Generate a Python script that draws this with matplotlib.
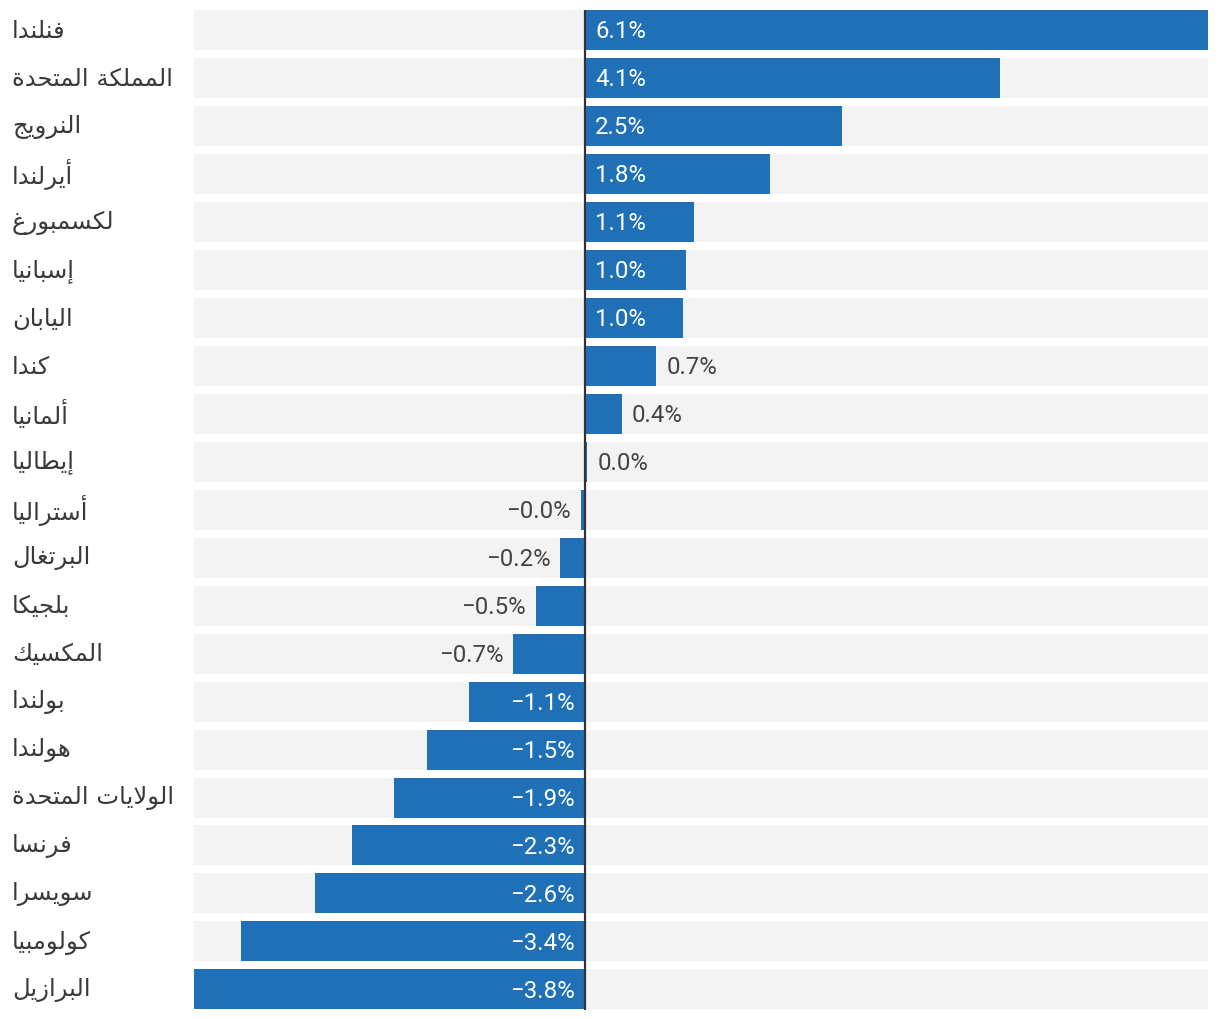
"""Horizontal diverging bar chart with Arabic country labels."""

import matplotlib
matplotlib.use("Agg")
import matplotlib.pyplot as plt
import matplotlib.transforms as mtransforms

countries = [
    "فنلندا", "المملكة المتحدة", "النرويج", "أيرلندا", "لكسمبورغ",
    "إسبانيا", "اليابان", "كندا", "ألمانيا", "إيطاليا", "أستراليا",
    "البرتغال", "بلجيكا", "المكسيك", "بولندا", "هولندا",
    "الولايات المتحدة", "فرنسا", "سويسرا", "كولومبيا", "البرازيل",
]
values = [
    6.10, 4.06, 2.52, 1.81, 1.07, 0.99, 0.96, 0.70, 0.36, 0.02, -0.04,
    -0.24, -0.48, -0.70, -1.13, -1.54, -1.87, -2.28, -2.64, -3.36, -3.82,
]

BLUE = "#2070b8"
GRAY = "#f3f3f3"

# presentation forms: (isolated, final, initial, medial); None -> right-joining only
FORMS = {
    "ا": (0xFE8D, 0xFE8E, None, None),
    "أ": (0xFE83, 0xFE84, None, None),
    "إ": (0xFE87, 0xFE88, None, None),
    "ب": (0xFE8F, 0xFE90, 0xFE91, 0xFE92),
    "ة": (0xFE93, 0xFE94, None, None),
    "ت": (0xFE95, 0xFE96, 0xFE97, 0xFE98),
    "ج": (0xFE9D, 0xFE9E, 0xFE9F, 0xFEA0),
    "ح": (0xFEA1, 0xFEA2, 0xFEA3, 0xFEA4),
    "د": (0xFEA9, 0xFEAA, None, None),
    "ر": (0xFEAD, 0xFEAE, None, None),
    "ز": (0xFEAF, 0xFEB0, None, None),
    "س": (0xFEB1, 0xFEB2, 0xFEB3, 0xFEB4),
    "ط": (0xFEC1, 0xFEC2, 0xFEC3, 0xFEC4),
    "غ": (0xFECD, 0xFECE, 0xFECF, 0xFED0),
    "ف": (0xFED1, 0xFED2, 0xFED3, 0xFED4),
    "ك": (0xFED9, 0xFEDA, 0xFEDB, 0xFEDC),
    "ل": (0xFEDD, 0xFEDE, 0xFEDF, 0xFEE0),
    "م": (0xFEE1, 0xFEE2, 0xFEE3, 0xFEE4),
    "ن": (0xFEE5, 0xFEE6, 0xFEE7, 0xFEE8),
    "ه": (0xFEE9, 0xFEEA, 0xFEEB, 0xFEEC),
    "و": (0xFEED, 0xFEEE, None, None),
    "ي": (0xFEF1, 0xFEF2, 0xFEF3, 0xFEF4),
    # lam-alef ligatures
    "لا": (0xFEFB, 0xFEFC, None, None),
    "لأ": (0xFEF7, 0xFEF8, None, None),
    "لإ": (0xFEF9, 0xFEFA, None, None),
}


def shape_arabic(text: str) -> str:
    """Minimal contextual shaping + reversal for left-to-right rendering."""
    units = []
    i = 0
    while i < len(text):
        pair = text[i:i + 2]
        if pair in FORMS and len(pair) == 2:
            units.append(pair)
            i += 2
        else:
            units.append(text[i])
            i += 1

    def joins_next(u):
        return u in FORMS and FORMS[u][2] is not None

    out = []
    for k, u in enumerate(units):
        if u not in FORMS:
            out.append(u)
            continue
        prev_ok = k > 0 and joins_next(units[k - 1])
        next_ok = (joins_next(u) and k + 1 < len(units)
                   and units[k + 1] in FORMS)
        iso, fin, ini, med = FORMS[u]
        if prev_ok and next_ok:
            cp = med
        elif prev_ok:
            cp = fin
        elif next_ok:
            cp = ini
        else:
            cp = iso
        out.append(chr(cp))
    return "".join(reversed(out))


def fmt(v: float) -> str:
    return f"{v:.1f}%".replace("-", "\u2212")


def main():
    fig = plt.figure(figsize=(12.2, 10.2), dpi=100)
    ax = fig.add_axes([194.5 / 1220, 9.5 / 1020, 1013.5 / 1220, 1000 / 1020])

    n = len(values)
    ys = list(range(n))
    h = 40 / 48
    xmin, xmax = min(values), max(values)

    ax.barh(ys, [xmax - xmin] * n, left=xmin, height=h, color=GRAY, zorder=1)
    ax.barh(ys, values, height=h, color=BLUE, zorder=2)
    ax.axvline(0, color="#333333", lw=1.6, zorder=3)

    ax.set_xlim(xmin, xmax)
    ax.set_ylim(n - 1 + h / 2, -h / 2)
    ax.axis("off")

    num_font = dict(family="Roboto", fontsize=17.3)
    for y, v in zip(ys, values):
        inside = abs(v) >= 0.9
        if inside:
            x0 = 0
            color = "white"
        else:
            x0 = v
            color = "#444444"
        if v >= 0:
            off, ha = 7.5, "left"
        else:
            off, ha = -7, "right"
        ax.annotate(fmt(v), (x0, y), xytext=(off, -0.5),
                    textcoords="offset points", ha=ha, va="center",
                    color=color, zorder=4, **num_font)

    trans = mtransforms.blended_transform_factory(fig.transFigure, ax.transData)
    for y, name in zip(ys, countries):
        ax.text(12 / 1220, y, shape_arabic(name), transform=trans,
                ha="left", va="center", fontsize=17.5, color="#3a3a3a",
                family="DejaVu Sans")

    fig.savefig("out.png", dpi=100, facecolor="white")


if __name__ == "__main__":
    main()
